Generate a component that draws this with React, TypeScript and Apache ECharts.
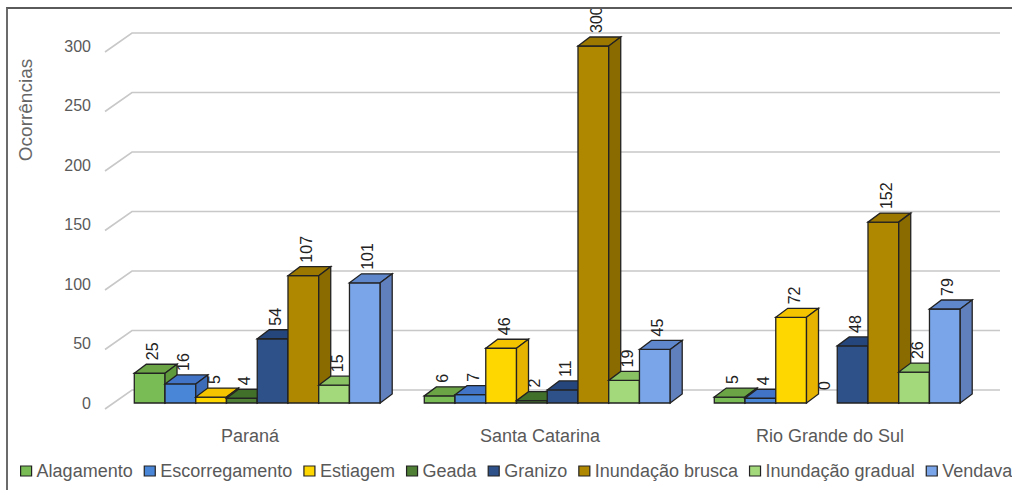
import { useEffect, useRef } from "react";
import * as echarts from "echarts";

// ---- data ----
const categories = ["Paraná", "Santa Catarina", "Rio Grande do Sul"];
const seriesNames = [
  "Alagamento",
  "Escorregamento",
  "Estiagem",
  "Geada",
  "Granizo",
  "Inundação brusca",
  "Inundação gradual",
  "Vendaval",
];
const alagamento = [25, 6, 5];
const escorregamento = [16, 7, 4];
const estiagem = [5, 46, 72];
const geada = [4, 2, 0];
const granizo = [54, 11, 48];
const inundacaoBrusca = [107, 300, 152];
const inundacaoGradual = [15, 19, 26];
const vendaval = [101, 45, 79];
const yTicks = [0, 50, 100, 150, 200, 250, 300];
const yAxisTitle = "Ocorrências";

const seriesValues = [
  alagamento,
  escorregamento,
  estiagem,
  geada,
  granizo,
  inundacaoBrusca,
  inundacaoGradual,
  vendaval,
];

// ---- styles ----
const frontColors = ["#79bc55", "#4a86d8", "#ffd700", "#4e7f34", "#2e5189", "#b08800", "#a3d97b", "#7aa5e8"];
const topColors = ["#6aa444", "#4174c6", "#f5c400", "#41702a", "#25467c", "#9c7800", "#88c262", "#5f87cc"];
const sideColors = ["#5f9a3c", "#3c6cb8", "#e6b400", "#3a6526", "#223f70", "#8a6b00", "#7fb85a", "#5f7fbd"];

const DX = 12;
const DY = -9;
const STROKE = "#222";
const SANS = "'Liberation Sans', Arial, sans-serif";

function makeBarRender(k: number, n: number) {
  return (params: any, api: any) => {
    const ci = api.value(0);
    const v = api.value(1);
    const base = api.coord([ci, 0]);
    const top = api.coord([ci, v]);
    const band = api.size([1, 0])[0];
    const barW = band * 0.106;
    const x0 = base[0] - (barW * n) / 2 + k * barW + band * 0.025;
    const x1 = x0 + barW;
    const yT = top[1];
    const yB = base[1];
    const children: any[] = [];
    if (v > 0) {
      children.push({
        type: "rect",
        shape: { x: x0, y: yT, width: barW, height: yB - yT },
        style: { fill: frontColors[k], stroke: STROKE, lineWidth: 1.3 },
      });
      children.push({
        type: "polygon",
        shape: {
          points: [
            [x0, yT],
            [x0 + DX, yT + DY],
            [x1 + DX, yT + DY],
            [x1, yT],
          ],
        },
        style: { fill: topColors[k], stroke: STROKE, lineWidth: 1.3 },
      });
      children.push({
        type: "polygon",
        shape: {
          points: [
            [x1, yT],
            [x1 + DX, yT + DY],
            [x1 + DX, yB + DY],
            [x1, yB],
          ],
        },
        style: { fill: sideColors[k], stroke: STROKE, lineWidth: 1.3 },
      });
    }
    children.push({
      type: "text",
      x: (x0 + x1) / 2 + 3,
      y: yT + DY - 4,
      rotation: Math.PI / 2,
      style: {
        text: String(v),
        align: "left",
        verticalAlign: "middle",
        fill: "#222",
        fontSize: 16,
        fontFamily: SANS,
      },
    });
    return { type: "group", children };
  };
}

export default function App() {
  const ref = useRef<HTMLDivElement>(null);
  useEffect(() => {
    if (!ref.current) return;
    const chart = echarts.init(ref.current, undefined, { renderer: "svg" });
    const n = seriesNames.length;
    const barSeries = seriesNames.map((name, k) => ({
      type: "custom",
      name,
      color: frontColors[k],
      itemStyle: { color: frontColors[k] },
      renderItem: makeBarRender(k, n),
      encode: { x: 0, y: 1 },
      data: seriesValues[k].map((v, i) => [i, v]),
      z: 3,
    }));
    chart.setOption({
      animation: false,
      grid: { left: 105, right: 125, top: 46, bottom: 87 },
      legend: {
        data: seriesNames.map((name) => ({ name, icon: "rect" })),
        left: 20,
        top: 462,
        padding: 0,
        itemWidth: 11,
        itemHeight: 10,
        itemGap: 11,
        itemStyle: { borderColor: "#222", borderWidth: 1.2 },
        textStyle: {
          fontFamily: SANS,
          fontSize: 18,
          color: "#595959",
        },
      },
      xAxis: {
        type: "category",
        data: categories,
        axisLine: { show: false },
        axisTick: { show: false },
        axisLabel: { color: "#595959", fontSize: 18, margin: 24, fontFamily: SANS },
      },
      yAxis: {
        type: "value",
        min: 0,
        max: 300,
        interval: 50,
        axisLine: { show: false },
        axisTick: { show: false },
        splitLine: { show: false },
        axisLabel: {
          color: "#5a5a5a",
          fontSize: 16,
          margin: 14,
          padding: [10, 0, 0, 0],
          fontFamily: SANS,
        },
      },
      graphic: [
        {
          type: "text",
          x: 25,
          y: 110,
          rotation: Math.PI / 2,
          style: {
            text: yAxisTitle,
            align: "center",
            verticalAlign: "middle",
            fill: "#666",
            fontSize: 19,
            fontFamily: SANS,
          },
        },
      ],
      series: [
        {
          type: "custom",
          name: "grid3d",
          silent: true,
          z: 1,
          encode: { x: 0, y: 1 },
          data: yTicks.map((t) => [0, t]),
          renderItem: (params: any, api: any) => {
            const p = api.coord([0, api.value(1)]);
            const cs = params.coordSys;
            const y = p[1];
            return {
              type: "polyline",
              shape: {
                points: [
                  [cs.x, y + 6],
                  [cs.x + 27, y - 13],
                  [cs.x + cs.width + 25, y - 13],
                ],
              },
              style: { stroke: "#c8c8c8", lineWidth: 1.6, fill: "none" },
            };
          },
        },
        ...barSeries,
      ],
    });
    return () => chart.dispose();
  }, []);

  return (
    <div
      style={{
        position: "fixed",
        left: 0,
        top: 0,
        width: 1012,
        height: 490,
        overflow: "hidden",
        background: "#fff",
      }}
    >
      <div
        style={{
          position: "absolute",
          left: 6,
          top: 7,
          width: 1200,
          height: 600,
          borderLeft: "2px solid #6b6b6b",
          borderTop: "2px solid #5a5a5a",
          overflow: "hidden",
        }}
      >
        <div
          ref={ref}
          style={{ position: "absolute", left: -8, top: -9, width: 1100, height: 490 }}
        />
      </div>
    </div>
  );
}
